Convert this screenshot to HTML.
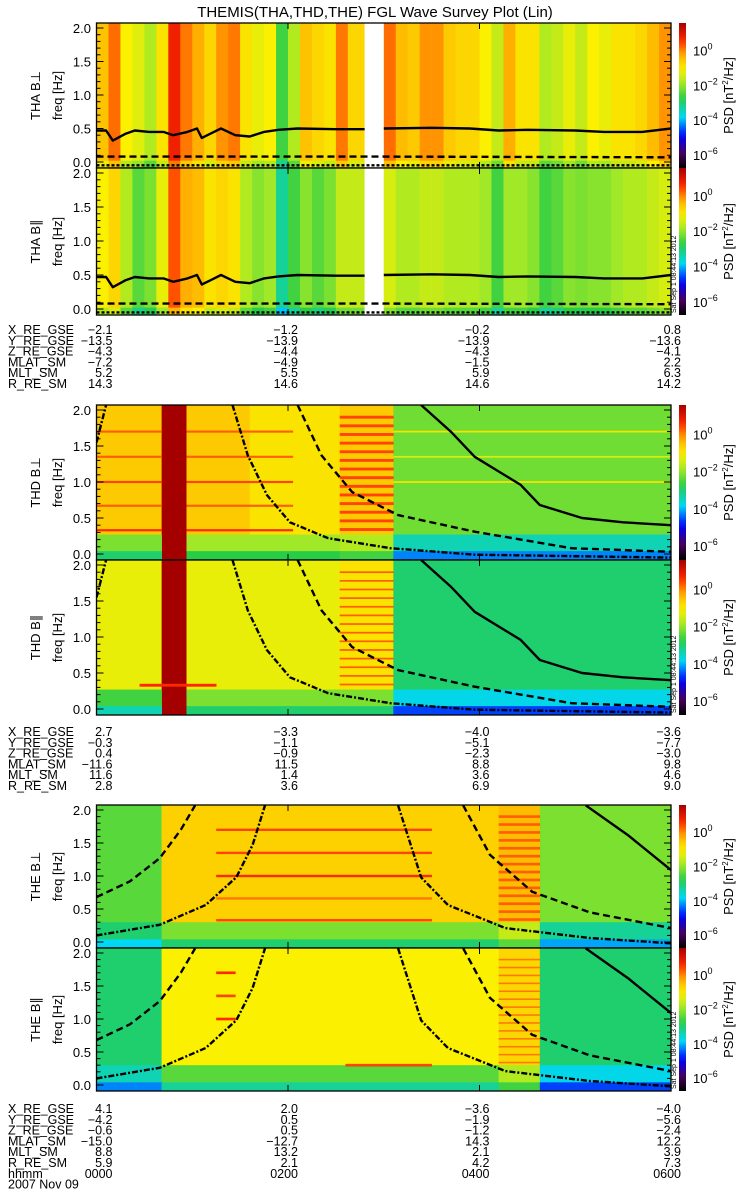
<!DOCTYPE html>
<html><head><meta charset="utf-8">
<style>
html,body{margin:0;padding:0;background:#fff;}
svg{display:block;}
text{font-family:"Liberation Sans",sans-serif;fill:#000;}
</style></head>
<body>
<svg id="plot" width="750" height="1200" viewBox="0 0 750 1200" xmlns="http://www.w3.org/2000/svg">
<text x="375" y="17" font-size="15" text-anchor="middle">THEMIS(THA,THD,THE) FGL Wave Survey Plot (Lin)</text>
</svg>
<script>
// ---------- data ----------
const hourTicks = [0, 2, 4, 6];
const freqTicks = [0.0, 0.5, 1.0, 1.5, 2.0];
const cbExponents = [0, -2, -4, -6];
// THA column levels (0..1 colour scale), 0.125 h per column
const thaPerpLevels = [0.75,0.83,0.68,0.65,0.6,0.7,0.9,0.82,0.78,0.72,0.8,0.82,0.7,0.66,0.68,0.5,0.6,0.75,0.72,0.7,0.82,0.72,0.72,0.72,0.83,0.76,0.74,0.8,0.8,0.74,0.72,0.72,0.68,0.62,0.78,0.7,0.7,0.6,0.62,0.66,0.62,0.68,0.66,0.7,0.7,0.72,0.76,0.8];
const thaParLevels = [0.68,0.72,0.6,0.52,0.55,0.66,0.85,0.78,0.76,0.7,0.72,0.7,0.6,0.56,0.58,0.42,0.5,0.56,0.52,0.55,0.62,0.62,0.62,0.62,0.64,0.6,0.6,0.62,0.62,0.6,0.6,0.6,0.58,0.5,0.58,0.58,0.56,0.5,0.52,0.56,0.55,0.56,0.56,0.58,0.6,0.6,0.62,0.64];
const thaGap = [2.8, 3.0];
const thaSolidT = [0,0.1,0.17,0.3,0.4,0.55,0.7,0.8,0.95,1.05,1.1,1.2,1.3,1.45,1.6,1.75,1.9,2.1,2.5,2.8];
const thaSolidF = [0.47,0.47,0.32,0.42,0.47,0.45,0.45,0.4,0.45,0.5,0.36,0.43,0.5,0.4,0.38,0.45,0.48,0.5,0.49,0.49];
const thaSolid2T = [3.0,3.5,3.9,4.2,4.5,5.0,5.3,5.7,6.0];
const thaSolid2F = [0.5,0.51,0.5,0.47,0.48,0.47,0.45,0.45,0.5];
const thaDashT = [0,2.8,3.0,6];
const thaDashF = [0.08,0.08,0.08,0.07];
// THD
const thdSegT0 = [0,0.68,0.94,1.6,2.54,3.1];
const thdSegT1 = [0.68,0.94,1.6,2.54,3.1,6];
const thdPerpSeg = [0.74,1.0,0.74,0.7,0.74,0.54];
const thdParSeg = [0.66,1.0,0.66,0.66,0.7,0.45];
const thdPerpLow = [0.55,1.0,0.58,0.58,0.6,0.4];
const thdParLow = [0.5,1.0,0.55,0.55,0.55,0.36];
const thdSolidT = [3.39,3.7,3.95,4.43,4.63,5.07,5.5,6.0];
const thdSolidF = [2.07,1.7,1.35,0.96,0.68,0.5,0.44,0.4];
const thdDashT = [2.1,2.35,2.67,3.15,3.95,4.96,6.0];
const thdDashF = [2.07,1.37,0.86,0.54,0.31,0.08,0.03];
const thdDotT = [1.42,1.58,1.78,2.02,2.42,3.07,3.95,6.0];
const thdDotF = [2.07,1.37,0.82,0.44,0.22,0.08,-0.01,-0.05];
const thdDot2T = [0,0.1];
const thdDot2F = [1.55,2.07];
const thdToneF = [1.7,1.35,1.0,0.67,0.33];
const thdToneLevel = [0.84,0.84,0.86,0.84,0.88];
const thdRightToneF = [1.7,1.35,1.0];
const thdRightToneLevel = [0.7,0.64,0.7];
// THE
const theSegT0 = [0,0.68,4.2,4.63];
const theSegT1 = [0.68,4.2,4.63,6];
const thePerpSeg = [0.52,0.73,0.76,0.55];
const theParSeg = [0.45,0.68,0.72,0.45];
const thePerpLow = [0.45,0.55,0.62,0.42];
const theParLow = [0.4,0.52,0.6,0.36];
const theSolidT = [5.11,5.55,6.0];
const theSolidF = [2.07,1.62,1.09];
const theDashLT = [0,0.35,0.66,0.88,1.03];
const theDashLF = [0.68,0.92,1.27,1.7,2.07];
const theDashRT = [3.83,4.11,4.55,5.15,6.0];
const theDashRF = [2.07,1.32,0.76,0.45,0.21];
const theDotLT = [0,0.66,1.14,1.46,1.63,1.76];
const theDotLF = [0.1,0.26,0.56,0.98,1.47,2.07];
const theDotRT = [3.15,3.39,3.67,4.27,5.15,6.0];
const theDotRF = [2.07,0.98,0.56,0.21,0.06,-0.02];
const theToneF = [1.7,1.35,1.0,0.66,0.33];
const thePerpToneLevel = [0.86,0.86,0.88,0.82,0.86];
const stripeF = [1.9,1.78,1.66,1.54,1.42,1.3,1.18,1.06,0.94,0.82,0.7,0.58,0.46,0.34];
// ephemeris
const ephLabels = ["X_RE_GSE","Y_RE_GSE","Z_RE_GSE","MLAT_SM","MLT_SM","R_RE_SM"];
const eph1 = [["-2.1","-1.2","-0.2","0.8"],["-13.5","-13.9","-13.9","-13.6"],["-4.3","-4.4","-4.3","-4.1"],["-7.2","-4.9","-1.5","2.2"],["5.2","5.5","5.9","6.3"],["14.3","14.6","14.6","14.2"]];
const eph2 = [["2.7","-3.3","-4.0","-3.6"],["-0.3","-1.1","-5.1","-7.7"],["0.4","-0.9","-2.3","-3.0"],["-11.6","11.5","8.8","9.8"],["11.6","1.4","3.6","4.6"],["2.8","3.6","6.9","9.0"]];
const eph3 = [["4.1","2.0","-3.6","-4.0"],["-4.2","0.5","-1.9","-5.6"],["-0.6","0.5","-1.2","-2.4"],["-15.0","-12.7","14.3","12.2"],["8.8","13.2","2.1","3.9"],["5.9","2.1","4.2","7.3"],["0000","0200","0400","0600"]];

// ---------- drawing ----------
const svg = document.getElementById('plot');
const NS = 'http://www.w3.org/2000/svg';
const X0 = 96.5, X1 = 671;
function xs(t){ return X0 + t/6*(X1-X0); }
function mk(tag, attrs, parent){
  const e = document.createElementNS(NS, tag);
  for (const k in attrs) e.setAttribute(k, attrs[k]);
  (parent||svg).appendChild(e); return e;
}
const stops = [[0,[0,0,0]],[0.1,[70,0,90]],[0.22,[0,0,255]],[0.35,[0,215,245]],[0.48,[40,205,70]],[0.58,[160,232,40]],[0.68,[250,240,0]],[0.78,[255,175,0]],[0.88,[255,40,0]],[1.0,[165,0,0]]];
function cmap(v){
  v=Math.max(0,Math.min(1,v));
  for(let i=1;i<stops.length;i++){
    if(v<=stops[i][0]){
      const a=stops[i-1],b=stops[i],f=(v-a[0])/(b[0]-a[0]);
      const c=a[1].map((x,j)=>Math.round(x+(b[1][j]-x)*f));
      return 'rgb('+c.join(',')+')';
    }
  }
  return 'rgb(165,0,0)';
}
function panel(top, bot, name){
  const g = mk('g', {});
  
  
  const ys = f => top+5 + (2.0-f)*(bot-top-11)/2;
  return {g, top, bot, ys};
}
function rect(p, t0, t1, f0, f1, lvl, nm){
  const y0 = Math.max(p.top, p.ys(f1)), y1 = Math.min(p.bot, p.ys(f0));
  const r = mk('rect', {x:xs(t0), y:y0, width:xs(t1)-xs(t0)+0.3, height:Math.max(0,y1-y0), fill:cmap(lvl)}, p.g);
  
  
}
function line(p, T, F, dash, nm){
  const pts = T.map((t,i)=>xs(t).toFixed(1)+','+p.ys(F[i]).toFixed(1)).join(' ');
  const cp = 'clip'+Math.round(p.top);
  if(!document.getElementById(cp)){
    const c = mk('clipPath',{id:cp}); mk('rect',{x:X0,y:p.top,width:X1-X0,height:p.bot-p.top},c);
  }
  const l = mk('polyline', {points:pts, fill:'none', stroke:'#000', 'stroke-width':2.4, 'stroke-dasharray':dash, 'clip-path':'url(#'+cp+')', 'stroke-linejoin':'round'}, p.g);
  
  
}
function axes(p, lab1){
  mk('rect',{x:X0,y:p.top,width:X1-X0,height:p.bot-p.top,fill:'none',stroke:'#000','stroke-width':1.3},p.g);
  for(let f=0; f<=2.001; f+=0.1){
    const y=p.ys(f), major=Math.abs(f*2-Math.round(f*2))<0.01;
    const len = major?7:4;
    mk('line',{x1:X0,x2:X0+len,y1:y,y2:y,stroke:'#000','stroke-width':1},p.g);
    mk('line',{x1:X1-len,x2:X1,y1:y,y2:y,stroke:'#000','stroke-width':1},p.g);
  }
  freqTicks.forEach(f=>{
    const t=mk('text',{x:91,y:p.ys(f)+5,'font-size':13,'text-anchor':'end'},p.g);
    
    
    t.textContent=f.toFixed(1);
  });
  hourTicks.forEach(h=>{
    mk('line',{x1:xs(h),x2:xs(h),y1:p.bot,y2:p.bot-6,stroke:'#000'},p.g);
    mk('line',{x1:xs(h),x2:xs(h),y1:p.top,y2:p.top+6,stroke:'#000'},p.g);
  });
  const cy=(p.top+p.bot)/2;
  const a=mk('text',{x:40,y:cy,'font-size':13,'text-anchor':'middle',transform:'rotate(-90 40 '+cy+')'},p.g);
  
  
  a.textContent=lab1;
  const b=mk('text',{x:62,y:cy,'font-size':13,'text-anchor':'middle',transform:'rotate(-90 62 '+cy+')'},p.g);
  
  
  b.textContent='freq [Hz]';
  const gid='cb'+Math.round(p.top);
  const lg=mk('linearGradient',{id:gid,x1:0,y1:1,x2:0,y2:0});
  for(let i=0;i<=20;i++) mk('stop',{offset:i/20,'stop-color':cmap(i/20)},lg);
  const cb=mk('rect',{x:679,y:p.top,width:7,height:p.bot-p.top,fill:'url(#'+gid+')'},p.g);
  
  
  cbExponents.forEach(e=>{
    const lvl=0.81+e*0.12;
    const y=p.bot-(p.bot-p.top)*lvl;
    const t=mk('text',{x:693,y:y+5,'font-size':13},p.g);
    
    
    t.innerHTML='10<tspan dy="-6" font-size="9">'+(e<0?'−'+(-e):e)+'</tspan>';
  });
  const ps=mk('text',{x:733,y:cy,'font-size':13,'text-anchor':'middle',transform:'rotate(-90 733 '+cy+')'},p.g);
  
  
  ps.innerHTML='PSD [nT<tspan dy="-5" font-size="8">2</tspan><tspan dy="5">/Hz]</tspan>';
}
function stamp(p){
  const y=p.bot-2;
  const t=mk('text',{x:676,y:y,'font-size':7,transform:'rotate(-90 676 '+y+')'},p.g);
  
  
  t.textContent='Sat Sep  1 08:44:13 2012';
}

// THA panels
[[23,168,thaPerpLevels,'THA B⊥','tha-bperp-panel'],[168,315,thaParLevels,'THA B∥','tha-bpar-panel']].forEach(([top,bot,lv,lab,nm],k)=>{
  const p=panel(top,bot,nm);
  lv.forEach((v,i)=>rect(p,i*0.125,(i+1)*0.125,-0.1,2.1,v,'spectrogram-column'));
  lv.forEach((v,i)=>rect(p,i*0.125,(i+1)*0.125,-0.1,0.02,v-0.08,'spectrogram-low-band'));
  const gp=mk('rect',{x:xs(thaGap[0]),y:top,width:xs(thaGap[1])-xs(thaGap[0]),height:bot-top,fill:'#fff'},p.g);
  
  
  line(p,thaSolidT,thaSolidF,'none','gyrofrequency-line');
  line(p,thaSolid2T,thaSolid2F,'none','gyrofrequency-line');
  line(p,thaDashT,thaDashF,'7,4','helium-gyrofrequency-line');
  line(p,[0,6],[-0.05,-0.05],'3,2','oxygen-gyrofrequency-line');
  axes(p,lab);
  if(k==1) stamp(p);
});

function spec(top,bot,segT0,segT1,seg,low,lowF,name){
  const p=panel(top,bot,name);
  seg.forEach((v,i)=>rect(p,segT0[i],segT1[i],-0.1,2.1,v,'spectrogram-segment'));
  low.forEach((v,i)=>{ if(seg[i]<0.99) rect(p,segT0[i],segT1[i],-0.1,lowF,v,'spectrogram-low-band'); });
  low.forEach((v,i)=>{ if(seg[i]<0.99) rect(p,segT0[i],segT1[i],-0.1,0.04,v-0.1,'spectrogram-floor'); });
  return p;
}
function tones(p,t0,t1,F,L,w){
  F.forEach((f,i)=>rect(p,t0,t1,f-w,f+w,L[i],'spectral-tone'));
}
// THD
[[405,560,thdPerpSeg,thdPerpLow,'THD B⊥','thd-bperp-panel',0],[560,715,thdParSeg,thdParLow,'THD B∥','thd-bpar-panel',1]].forEach(([top,bot,sg,lw,lab,nm,k])=>{
  const p=spec(top,bot,thdSegT0,thdSegT1,sg,lw,0.27,nm);
  if(k==0){
    tones(p,0,0.68,thdToneF,thdToneLevel,0.015);
    tones(p,0.94,2.05,thdToneF,thdToneLevel,0.015);
    tones(p,3.1,6,thdRightToneF,thdRightToneLevel,0.012);
    stripeF.forEach(f=>rect(p,2.54,3.1,f-0.02,f+0.02,0.86,'stripe'));
  } else {
    tones(p,0.45,1.25,[0.33],[0.88],0.02);
    stripeF.forEach(f=>rect(p,2.54,3.1,f-0.012,f+0.012,0.84,'stripe'));
  }
  line(p,thdSolidT,thdSolidF,'none','gyrofrequency-line');
  line(p,thdDashT,thdDashF,'7,4','helium-gyrofrequency-line');
  line(p,thdDotT,thdDotF,'6,2,2,2','oxygen-gyrofrequency-line');
  line(p,thdDot2T,thdDot2F,'6,2,2,2','oxygen-gyrofrequency-line');
  axes(p,lab);
  if(k==1) stamp(p);
});
// THE
[[805,948,thePerpSeg,thePerpLow,'THE B⊥','the-bperp-panel',0],[948,1091,theParSeg,theParLow,'THE B∥','the-bpar-panel',1]].forEach(([top,bot,sg,lw,lab,nm,k])=>{
  const p=spec(top,bot,theSegT0,theSegT1,sg,lw,0.3,nm);
  if(k==0){
    tones(p,1.25,3.5,theToneF,thePerpToneLevel,0.018);
    stripeF.forEach(f=>rect(p,4.2,4.63,f-0.02,f+0.02,0.84,'stripe'));
  } else {
    tones(p,1.25,1.45,[1.7,1.35,1.0],[0.88,0.86,0.88],0.02);
    tones(p,2.6,3.5,[0.3],[0.86],0.02);
    stripeF.forEach(f=>rect(p,4.2,4.63,f-0.012,f+0.012,0.82,'stripe'));
  }
  line(p,theSolidT,theSolidF,'none','gyrofrequency-line');
  line(p,theDashLT,theDashLF,'7,4','helium-gyrofrequency-line');
  line(p,theDashRT,theDashRF,'7,4','helium-gyrofrequency-line');
  line(p,theDotLT,theDotLF,'6,2,2,2','oxygen-gyrofrequency-line');
  line(p,theDotRT,theDotRF,'6,2,2,2','oxygen-gyrofrequency-line');
  axes(p,lab);
  if(k==1) stamp(p);
});

// ephemeris
function eph(y0, rows, labels, nm){
  const g=mk('g',{});
  
  
  labels.forEach((l,i)=>{
    const t=mk('text',{x:8,y:y0+i*10.8+5,'font-size':12.5},g);
    
    
    t.textContent=l;
    rows[i].forEach((v,j)=>{
      const tv=mk('text',{x:xs(hourTicks[j])+(j==0?16:10),y:y0+i*10.8+5,'font-size':12.5,'text-anchor':'end'},g);
      
      
      tv.textContent=v.replace('-','−');
    });
  });
}
eph(329, eph1, ephLabels, 'tha-ephemeris');
eph(731, eph2, ephLabels, 'thd-ephemeris');
eph(1108, eph3, ephLabels.concat(['hhmm']), 'the-ephemeris');
const dt=mk('text',{x:8,y:1108+7*10.8+5,'font-size':12.5});


dt.textContent='2007 Nov 09';
</script>
</body></html>
